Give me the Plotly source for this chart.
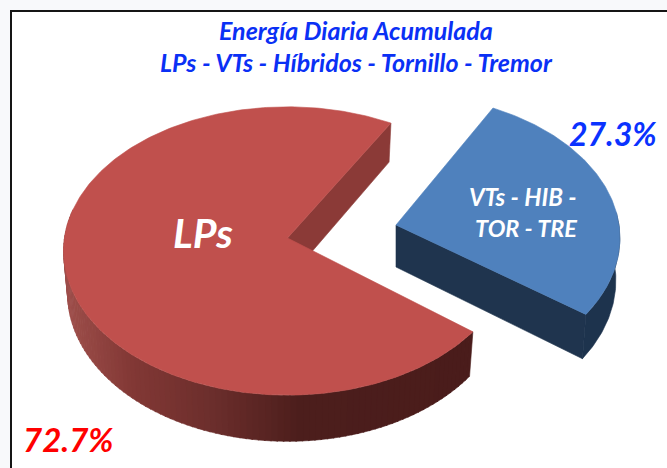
import numpy as np
import plotly.graph_objects as go

categories = ["LPs", "VTs - HIB - TOR - TRE"]
values = [72.7, 27.3]
title_lines = ["Energía Diaria Acumulada", "LPs - VTs - Híbridos - Tornillo - Tremor"]

W, H = 667, 468
FONT = "Lato"
START = 30.0          # clockwise degrees from the back of the disc, where the small slice starts
CX, CY = 287.5, 238.0  # apex of the large slice on the top face
A, B, K = 223.0, 143.0, 0.09
THICK = 42.0
EXPLODE = (108.5, -13.0)
BLUE_TURN = -2.0      # apparent rotation of the pulled-out slice under perspective


def project(theta_deg, r=1.0, level=0.0, shift=(0.0, 0.0)):
    """Perspective projection of a disc point to screen pixels."""
    t = np.radians(theta_deg)
    u = r * np.sin(t)
    v = -r * np.cos(t)
    s = 1 / (1 - K * v)
    xscale = 1 - 0.018 * level
    return (CX + shift[0] + A * u * s * xscale,
            CY + shift[1] + B * v * s + THICK * level * s)


def poly(fig, xs, ys, color):
    fig.add_trace(go.Scatter(x=list(xs), y=list(ys), mode="lines", fill="toself",
                             fillcolor=color, line=dict(color=color, width=0.6),
                             hoverinfo="skip", showlegend=False))


def lerp_color(x, stops):
    xs = [p[0] for p in stops]
    r = np.interp(x, xs, [p[1][0] for p in stops])
    g = np.interp(x, xs, [p[1][1] for p in stops])
    b = np.interp(x, xs, [p[1][2] for p in stops])
    return f"rgb({r:.0f},{g:.0f},{b:.0f})"


small_sweep = 360 * values[1] / sum(values)
small_a, small_b = START + BLUE_TURN, START + BLUE_TURN + small_sweep
large_a, large_b = START + small_sweep, START + 360

fig = go.Figure()

# large slice: inner wall, outer wall with gradient, top face
tx, ty = project(START)
bx, by = project(START, level=1)
ax, ay = project(0, r=0)
a2x, a2y = project(0, r=0, level=1)
poly(fig, [ax, tx, bx, a2x, ax], [ay, ty, by, a2y, ay], "#8b3a37")

stops = [(60, (160, 80, 76)), (130, (130, 56, 53)), (210, (108, 46, 44)),
         (300, (76, 30, 28)), (480, (74, 28, 27))]
edges = np.arange(large_a, 282, 1.5)
for e0, e1 in zip(edges[:-1], edges[1:]):
    x0, y0 = project(e0)
    x1, y1 = project(e1 + 0.3)
    x2, y2 = project(e1 + 0.3, level=1)
    x3, y3 = project(e0, level=1)
    poly(fig, [x0, x1, x2, x3, x0], [y0, y1, y2, y3, y0],
         lerp_color((x0 + x1) / 2, stops))

th = np.linspace(large_a, large_b, 300)
px, py = project(th)
poly(fig, np.r_[ax, px, ax], np.r_[ay, py, ay], "#c0504d")

# small slice: walls, top face
S = EXPLODE
sax, say = project(0, r=0, shift=S)
sa2x, sa2y = project(0, r=0, level=1, shift=S)
cx, cy = project(small_b, shift=S)
c2x, c2y = project(small_b, level=1, shift=S)
poly(fig, [sax, cx, c2x, sa2x, sax], [say, cy, c2y, sa2y, say], "#1f344e")

th = np.linspace(85, small_b, 60)
x_top, y_top = project(th, shift=S)
x_bot, y_bot = project(th, level=1, shift=S)
poly(fig, np.r_[x_top, x_bot[::-1]], np.r_[y_top, y_bot[::-1]], "#1d334d")

th = np.linspace(small_a, small_b, 120)
px, py = project(th, shift=S)
poly(fig, np.r_[sax, px, sax], np.r_[say, py, say], "#4f81bd")


def label(text, x, y, size, color):
    fig.add_annotation(x=x, y=y, xref="x", yref="y", text=f"<b><i>{text}</i></b>",
                       showarrow=False, xanchor="center", yanchor="middle",
                       font=dict(family=FONT, size=size, color=color))


label(title_lines[0], 356, 30, 25, "#0a30f5")
label(title_lines[1], 356, 62, 25, "#0a30f5")
label(categories[0], 203, 232, 41, "#ffffff")
vt = categories[1].split(" - ")
label(f"{vt[0]} - {vt[1]} -", 523, 196, 24, "#ffffff")
label(f"{vt[2]} - {vt[3]}", 526, 228, 23.5, "#ffffff")
label(f"{values[1]}%", 613, 133, 32, "#0a32ff")
label(f"{values[0]}%", 68, 439, 33, "#ff0000")

fig.update_layout(
    width=W, height=H, margin=dict(l=0, r=0, t=0, b=0), autosize=False,
    paper_bgcolor="#f8f9fb", plot_bgcolor="#f8f9fb", showlegend=False,
    xaxis=dict(range=[0, W], visible=False, fixedrange=True),
    yaxis=dict(range=[H, 0], visible=False, fixedrange=True),
    shapes=[dict(type="rect", xref="x", yref="y", x0=11, y0=11, x1=W + 20, y1=H + 20,
                 fillcolor="#ffffff", line=dict(color="#151515", width=2), layer="below")],
)
fig.write_html("out.html", config={"displayModeBar": False},
               post_script="document.body.style.margin='0';document.documentElement.style.overflow='hidden';window.dispatchEvent(new Event('resize'));")
